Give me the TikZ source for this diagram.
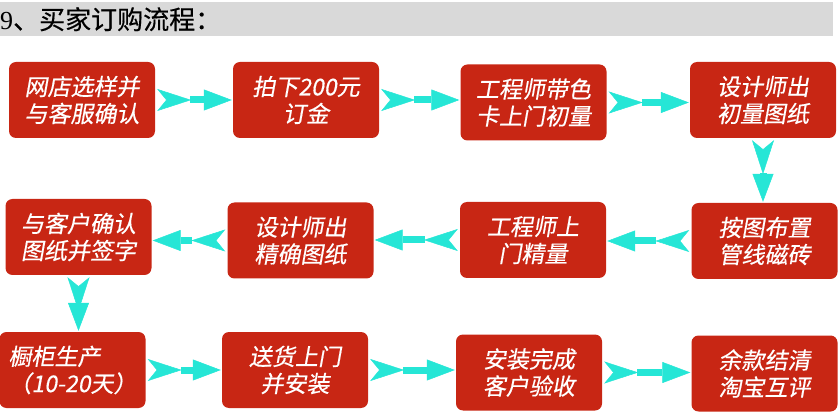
\documentclass[tikz,border=0pt]{standalone}
\usepackage{fontspec}
\usetikzlibrary{arrows.meta}
\setmainfont{Liberation Serif}
\newfontfamily\cjk[FakeBold=0.4]{Noto Sans CJK SC}
\newfontfamily\cjksl[FakeSlant=0.18,FakeBold=0.5]{Noto Sans CJK SC}
\definecolor{boxred}{RGB}{200,38,20}
\definecolor{arrowcyan}{RGB}{38,230,214}
\definecolor{headgray}{RGB}{217,217,217}
\tikzset{
  stepbox/.style={fill=boxred, rounded corners=7pt, minimum width=146pt,
    minimum height=76pt, text=white, align=center, inner sep=0pt,
    font=\cjksl\fontsize{23}{27}\selectfont},
  flow/.style={draw=arrowcyan, fill=arrowcyan, line width=7pt,
    arrows={Stealth[reversed,length=34pt,width=22pt,inset=9pt,line width=0.5pt]-Triangle[length=28pt,width=21pt,line width=0.5pt]},
    shorten <=2pt, shorten >=1pt}
}
\begin{document}
\begin{tikzpicture}[x=1pt,y=1pt]
\useasboundingbox (0,0) rectangle (840,415);
\node (title) [anchor=north west, fill=headgray, minimum height=34pt,
  text width=833pt, inner sep=0pt, align=left,
  font=\fontsize{26}{30}\selectfont] at (0,413) {9{\cjk 、买家订购流程：}};
% row 1
\node[stepbox] (b1) at (82,315) {网店选样并\\与客服确认};
\node[stepbox] (b2) at (306,315) {拍下200元\\订金};
\node[stepbox] (b3) at (533.5,312.5) {工程师带色\\卡上门初量};
\node[stepbox] (b4) at (763,315) {设计师出\\初量图纸};
% row 2
\node[stepbox] (b5) at (78.5,178) {与客户确认\\图纸并签字};
\node[stepbox] (b6) at (300.5,174.5) {设计师出\\精确图纸};
\node[stepbox] (b7) at (533,175) {工程师上\\门精量};
\node[stepbox] (b8) at (764.5,174) {按图布置\\管线磁砖};
% row 3
\node[stepbox, align=left] (b9) at (72.5,45) {橱柜生产\\（10-20天）};
\node[stepbox] (b10) at (295,45) {送货上门\\并安装};
\node[stepbox] (b11) at (529,42.5) {安装完成\\客户验收};
\node[stepbox] (b12) at (764.5,41.5) {余款结清\\淘宝互评};
% connectors
\draw[flow] (b1.east) -- (b1.east -| b2.west);
\draw[flow] (b2.east) -- (b2.east -| b3.west);
\draw[flow] (b3.east) -- (b3.east -| b4.west);
\draw[flow] (b4.south) -- (b4.south |- b8.north);
\draw[flow] (b8.west) -- (b8.west -| b7.east);
\draw[flow] (b7.west) -- (b7.west -| b6.east);
\draw[flow] (b6.west) -- (b6.west -| b5.east);
\draw[flow] (b5.south) -- (b5.south |- b9.north);
\draw[flow] (b9.east) -- (b9.east -| b10.west);
\draw[flow] (b10.east) -- (b10.east -| b11.west);
\draw[flow] (b11.east) -- (b11.east -| b12.west);
\end{tikzpicture}
\end{document}
